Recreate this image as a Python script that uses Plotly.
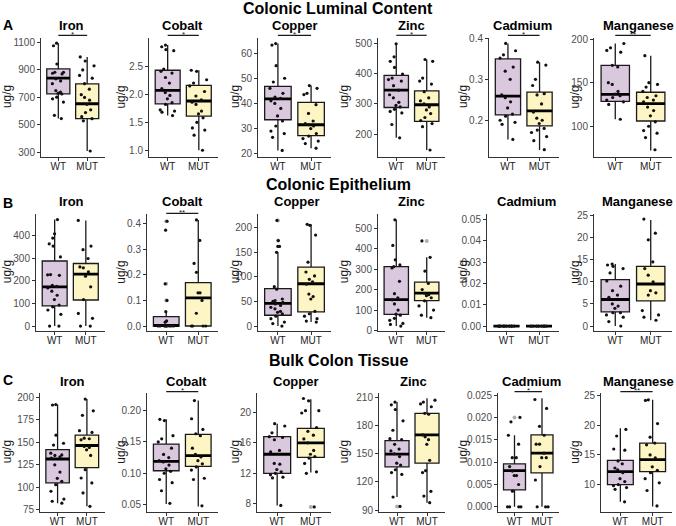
import plotly.graph_objects as go

# ======================= DATA =======================
TISSUES = ["Colonic Luminal Content", "Colonic Epithelium", "Bulk Colon Tissue"]
ROW_TAGS = ["A", "B", "C"]
METALS = ["Iron", "Cobalt", "Copper", "Zinc", "Cadmium", "Manganese"]
GROUPS = ["WT", "MUT"]
Y_TITLE = "ug/g"

TISSUE_KEYS = ["LUM", "EPI", "BULK"]
METAL_KEYS = ["IRON", "COBALT", "COPPER", "ZINC", "CADMIUM", "MANGANESE"]

# significance labels per panel
SIG_LUM = ["*", "*", "*", "*", "*", "**"]
SIG_EPI = ["", "**", "", "", "", ""]
SIG_BULK = ["", "*", "", "", "*", "**"]

# y tick labels per panel
TICKS_LUM = [["300", "500", "700", "900", "1100"], ["1.0", "1.5", "2.0", "2.5"],
             ["20", "30", "40", "50", "60"], ["200", "300", "400", "500"],
             ["0.2", "0.3", "0.4"], ["100", "150", "200"]]
TICKS_EPI = [["0", "100", "200", "300", "400"], ["0.0", "0.1", "0.2", "0.3", "0.4"],
             ["0", "50", "100", "150", "200"], ["0", "100", "200", "300", "400", "500"],
             ["0.00", "0.01", "0.02", "0.03", "0.04", "0.05"], ["0", "5", "10", "15", "20", "25"]]
TICKS_BULK = [["75", "100", "125", "150", "175", "200"], ["0.05", "0.10", "0.15", "0.20"],
              ["8", "12", "16", "20"], ["90", "120", "150", "180", "210"],
              ["0.000", "0.005", "0.010", "0.015", "0.020", "0.025"], ["10", "15", "20", "25"]]

# box stats: [q1, median, q3, lower whisker end, upper whisker end]
# ---- Colonic luminal content ----
LUM_IRON_WT_BOX = [726, 840, 907, 546, 1095]
LUM_IRON_WT = [1095, 1076, 943, 883, 883, 876, 871, 835, 820, 800, 750, 738, 731, 725, 702, 690, 666, 570, 546]
LUM_IRON_MUT_BOX = [546, 654, 799, 310, 995]
LUM_IRON_MUT = [995, 965, 930, 900, 860, 840, 800, 760, 720, 700, 680, 650, 610, 590, 560, 545, 530, 310]

LUM_COBALT_WT_BOX = [1.83, 2.07, 2.43, 1.62, 2.88]
LUM_COBALT_WT = [2.88, 2.85, 2.80, 2.78, 2.45, 2.41, 2.38, 2.30, 2.20, 2.10, 2.03, 1.98, 1.92, 1.85, 1.82, 1.72, 1.70, 1.68, 1.62]
LUM_COBALT_MUT_BOX = [1.61, 1.88, 2.16, 1.00, 2.43]
LUM_COBALT_MUT = [2.43, 2.41, 2.26, 2.20, 2.15, 2.05, 1.97, 1.90, 1.86, 1.82, 1.70, 1.65, 1.58, 1.50, 1.40, 1.36, 1.27, 1.00]

LUM_COPPER_WT_BOX = [33.5, 41.8, 46.8, 21.3, 63.8]
LUM_COPPER_WT = [63.8, 63.2, 55, 50, 48.5, 46, 44, 42.5, 42, 41, 40, 38, 35, 33, 31, 29, 28, 26.5, 21.3]
LUM_COPPER_MUT_BOX = [27.2, 31.5, 40.4, 22.2, 47.1]
LUM_COPPER_MUT = [47.1, 46, 44, 43.5, 39.5, 36, 33, 32, 31.5, 31, 30, 28, 27, 26, 25, 24, 22.2]

LUM_ZINC_WT_BOX = [288, 345, 394, 188, 498]
LUM_ZINC_WT = [498, 455, 440, 420, 398, 385, 380, 375, 360, 345, 330, 320, 305, 295, 290, 282, 275, 270, 232, 188]
LUM_ZINC_MUT_BOX = [242, 297, 343, 148, 446]
LUM_ZINC_MUT = [446, 440, 385, 375, 365, 340, 320, 310, 300, 290, 280, 268, 255, 245, 235, 225, 148]

LUM_CADMIUM_WT_BOX = [0.213, 0.259, 0.350, 0.153, 0.388]
LUM_CADMIUM_WT = [0.388, 0.370, 0.360, 0.352, 0.330, 0.320, 0.300, 0.262, 0.255, 0.245, 0.230, 0.215, 0.210, 0.200, 0.195, 0.190, 0.153]
LUM_CADMIUM_MUT_BOX = [0.186, 0.223, 0.269, 0.127, 0.342]
LUM_CADMIUM_MUT = [0.342, 0.335, 0.300, 0.285, 0.265, 0.262, 0.240, 0.220, 0.205, 0.200, 0.192, 0.180, 0.176, 0.170, 0.160, 0.150, 0.128]

LUM_MANGANESE_WT_BOX = [128.5, 136.5, 170, 108, 195]
LUM_MANGANESE_WT = [195, 190, 187, 185, 170, 168, 150, 148, 140, 137, 135, 133, 130, 128, 125, 108]
LUM_MANGANESE_MUT_BOX = [106, 126, 139, 72, 181]
LUM_MANGANESE_MUT = [181, 150, 148, 145, 140, 135, 133, 130, 128, 122, 118, 112, 105, 100, 95, 92, 87, 73]

# ---- Colonic epithelium ----
EPI_IRON_WT_BOX = [89, 173, 287, 0, 470]
EPI_IRON_WT = [470, 407, 388, 363, 353, 305, 227, 226, 224, 180, 175, 168, 154, 136, 117, 93, 85, 71, 52, 0, 0]
EPI_IRON_MUT_BOX = [115, 229, 276, 0, 466]
EPI_IRON_MUT = [466, 353, 337, 298, 261, 257, 239, 220, 173, 117, 56, 34, 0, 0]

EPI_COBALT_WT_BOX = [0, 0.002, 0.037, 0, 0.056]
EPI_COBALT_WT = [0.41, 0.375, 0.165, 0.10, 0.056, 0.02, 0.015, 0, 0, 0, 0, 0, 0, 0, 0, 0]
EPI_COBALT_WT_OUT = [0.41, 0.165, 0.10]
EPI_COBALT_MUT_BOX = [0, 0.11, 0.17, 0, 0.415]
EPI_COBALT_MUT = [0.415, 0.335, 0.245, 0.21, 0.13, 0.13, 0.10, 0.05, 0, 0, 0, 0]

EPI_COPPER_WT_BOX = [22, 46, 76, 0, 150]
EPI_COPPER_WT = [215, 174, 162, 162, 150, 80, 75, 55, 52, 50, 48, 45, 42, 38, 35, 30, 28, 25, 20, 15, 8, 5, 0]
EPI_COPPER_WT_OUT = [215, 174]
EPI_COPPER_MUT_BOX = [29, 86, 120, 8, 207]
EPI_COPPER_MUT = [207, 205, 185, 130, 110, 102, 95, 90, 85, 65, 60, 55, 30, 25, 20, 15, 10, 8]

EPI_ZINC_WT_BOX = [79, 151, 312, 22, 540]
EPI_ZINC_WT = [540, 415, 345, 320, 312, 305, 240, 180, 160, 150, 130, 100, 80, 75, 60, 50, 35, 30, 22]
EPI_ZINC_MUT_BOX = [146, 183, 236, 63, 357]
EPI_ZINC_MUT = [437, 357, 290, 230, 200, 182, 175, 170, 160, 145, 120, 100, 75, 63]
EPI_ZINC_MUT_OUT = [437]

EPI_CADMIUM_WT_BOX = [0, 0, 0, 0, 0]
EPI_CADMIUM_WT = [0, 0, 0, 0, 0, 0, 0, 0, 0, 0]
EPI_CADMIUM_MUT_BOX = [0, 0, 0, 0, 0]
EPI_CADMIUM_MUT = [0, 0, 0, 0, 0, 0, 0, 0]

EPI_MANGANESE_WT_BOX = [3.2, 6.0, 10.5, 0, 14]
EPI_MANGANESE_WT = [14, 13.8, 13.5, 13, 12, 10.2, 9, 8, 7, 6.5, 5, 4.5, 4, 3, 3, 2.5, 2, 1, 0]
EPI_MANGANESE_MUT_BOX = [5.7, 9.5, 13.5, 1.3, 24]
EPI_MANGANESE_MUT = [24.2, 21, 19.5, 14.5, 13, 11.5, 10, 8, 7.5, 7, 3.5, 2.5, 2, 1.3]

# ---- Bulk colon tissue ----
BULK_IRON_WT_BOX = [105, 131.5, 142, 82.4, 192]
BULK_IRON_WT = [192, 191.5, 158, 149, 147, 138, 136, 135.5, 134, 132.5, 125, 117, 110, 106.7, 103, 95.7, 87, 84.6, 82.4]
BULK_IRON_MUT_BOX = [122, 146.5, 158, 79, 198]
BULK_IRON_MUT = [198, 185, 180, 163, 161, 154.6, 154, 152.8, 145.4, 144.3, 141.7, 135.5, 119.6, 110.4, 104.9, 93.8, 79]

BULK_COBALT_WT_BOX = [0.104, 0.119, 0.1465, 0.051, 0.186]
BULK_COBALT_WT = [0.186, 0.184, 0.16, 0.155, 0.15, 0.14, 0.13, 0.125, 0.12, 0.118, 0.113, 0.107, 0.103, 0.10, 0.09, 0.085, 0.072, 0.052]
BULK_COBALT_MUT_BOX = [0.111, 0.128, 0.162, 0.047, 0.216]
BULK_COBALT_MUT = [0.216, 0.187, 0.17, 0.163, 0.16, 0.14, 0.13, 0.126, 0.12, 0.115, 0.11, 0.105, 0.092, 0.09, 0.048]

BULK_COPPER_WT_BOX = [12.0, 14.5, 16.8, 7.8, 18.5]
BULK_COPPER_WT = [18.5, 18.2, 17.3, 16.8, 16.7, 16.4, 15.0, 14.8, 13.3, 13.2, 12.5, 12.2, 12.0, 11.8, 11.5, 11.4, 7.8]
BULK_COPPER_MUT_BOX = [14.1, 16.0, 17.9, 12.1, 21.7]
BULK_COPPER_MUT = [21.8, 21.5, 20.2, 20.2, 19.9, 18.0, 17.5, 17.0, 16.5, 16.0, 15.0, 14.5, 14.2, 14.0, 13.3, 12.2, 12.0, 7.6]
BULK_COPPER_MUT_OUT = [7.6]

BULK_ZINC_WT_BOX = [136, 149.5, 164, 104, 205]
BULK_ZINC_WT = [205, 202, 197, 185, 175, 166, 165, 160, 155, 153, 150, 147, 140, 138, 133, 130, 128, 104, 94]
BULK_ZINC_WT_OUT = [94]
BULK_ZINC_MUT_BOX = [140, 170, 193, 98, 209]
BULK_ZINC_MUT = [207, 205, 203, 200, 193, 192, 170, 168, 165, 160, 143, 132, 130, 110, 105, 98]

BULK_CADMIUM_WT_BOX = [0.0038, 0.0081, 0.0096, 0, 0.016]
BULK_CADMIUM_WT = [0.020, 0.019, 0.016, 0.014, 0.011, 0.011, 0.009, 0.008, 0.007, 0.007, 0.005, 0.0035, 0, 0, 0, 0]
BULK_CADMIUM_WT_OUT = [0.020]
BULK_CADMIUM_MUT_BOX = [0.0076, 0.012, 0.0161, 0, 0.0243]
BULK_CADMIUM_MUT = [0.024, 0.022, 0.018, 0.016, 0.014, 0.014, 0.012, 0.011, 0.011, 0.009, 0.006, 0, 0, 0]

BULK_MANGANESE_WT_BOX = [10.0, 12.2, 14.1, 7.1, 19.5]
BULK_MANGANESE_WT = [19.3, 18.2, 16, 15.8, 14, 13.5, 12.8, 12.5, 12, 11, 10.5, 10, 9.8, 9.5, 9.2, 7.1]
BULK_MANGANESE_MUT_BOX = [12.2, 14.2, 17.0, 6.3, 24.3]
BULK_MANGANESE_MUT = [24.3, 24.2, 20.3, 18, 17, 16.7, 15, 14.5, 13, 12.4, 12, 11, 10.3, 9, 6.4]

# ======================= LAYOUT (positions / styles) =======================
W, H = 676, 526
FONT = "Liberation Sans, Arial, sans-serif"
FILLS = {"WT": "#d9c8de", "MUT": "#fdf5c3"}
AXIS_COL = "#333333"
TICK_COL = "#4d4d4d"

YRANGE = [
    [[268.6, 1136], [0.885, 3.015], [18.8, 66.2], [126, 518.5], [0.1108, 0.4024], [65, 201.9]],
    [[-21.7, 496.6], [-0.0195, 0.4403], [-10.1, 229], [-2, 570.7], [-0.0023, 0.0528], [-1.13, 25.45]],
    [[73.2, 204.8], [0.0389, 0.2281], [7.0, 22.52], [88.6, 214.6], [-0.00104, 0.02545], [5.46, 25.45]],
]
ROW_TOP = [37.5, 213.5, 393]
ROW_BOT = [156.7, 331, 511.5]
AXIS_LEFT = [[41, 149, 258, 378, 489, 594],
             [36, 147, 258, 378, 487, 594],
             [40, 147, 257, 379, 498, 601]]
PANEL_RIGHT = [104.5, 217.5, 331, 445, 558.5, 672]
YTITLE_X = [7, 121.5, 235, 344, 463, 575.5]
PANEL_TITLE_X = [[71.7, 182.7, 295, 411, 522.7, 638],
                 [71.7, 182.7, 296.7, 411, 526, 637],
                 [72.7, 186.7, 296, 413.3, 531.5, 638]]
TITLE_Y = [8.5, 184, 360]
TAG_Y = [25, 203, 380]
PANEL_TITLE_Y = [25, 201.7, 381.7]
SIG_BAR_Y = [35.3, 213.3, 391.6]

TICKS = [TICKS_LUM, TICKS_EPI, TICKS_BULK]
SIGS = [SIG_LUM, SIG_EPI, SIG_BULK]


def get(name, default=None):
    return globals().get(name, default)


def fx(px):
    return px / W


def fy(px):
    return 1 - px / H


fig = go.Figure()
annotations = []
shapes = []
axes = {}

k = 0
for r, tk in enumerate(TISSUE_KEYS):
    annotations.append(dict(text="<b>%s</b>" % TISSUES[r], x=0.5, y=fy(TITLE_Y[r]), xref="paper", yref="paper",
                            showarrow=False, xanchor="center", yanchor="middle",
                            font=dict(family=FONT, size=16, color="black")))
    annotations.append(dict(text="<b>%s</b>" % ROW_TAGS[r], x=fx(1), y=fy(TAG_Y[r]), xref="paper", yref="paper",
                            showarrow=False, xanchor="left", yanchor="middle",
                            font=dict(family=FONT, size=14, color="black")))
    for c, mk in enumerate(METAL_KEYS):
        k += 1
        xa = "x" if k == 1 else "x%d" % k
        ya = "y" if k == 1 else "y%d" % k
        left, right = AXIS_LEFT[r][c], PANEL_RIGHT[c]
        top, bot = ROW_TOP[r], ROW_BOT[r]
        ticks = TICKS[r][c]
        axes["xaxis" if k == 1 else "xaxis%d" % k] = dict(
            domain=[fx(left), fx(right)], anchor=ya, type="category",
            categoryorder="array", categoryarray=GROUPS, range=[-0.6, 1.6],
            showline=True, linecolor=AXIS_COL, linewidth=1, ticks="outside", ticklen=3,
            tickcolor=AXIS_COL, tickwidth=1, ticklabelstandoff=-3,
            tickfont=dict(family=FONT, size=10, color="#222222"),
            showgrid=False, zeroline=False, automargin=False, fixedrange=True)
        axes["yaxis" if k == 1 else "yaxis%d" % k] = dict(
            domain=[fy(bot), fy(top)], anchor=xa, range=YRANGE[r][c],
            tickmode="array", tickvals=[float(t) for t in ticks], ticktext=ticks,
            showline=True, linecolor=AXIS_COL, linewidth=1, ticks="outside", ticklen=3,
            tickcolor=AXIS_COL, tickwidth=1, tickfont=dict(family=FONT, size=10, color=TICK_COL),
            showgrid=False, zeroline=False, automargin=False, fixedrange=True)

        for g in GROUPS:
            q1, med, q3, lo, hi = get("%s_%s_%s_BOX" % (tk, mk, g))
            pts = get("%s_%s_%s" % (tk, mk, g))
            outs = get("%s_%s_%s_OUT" % (tk, mk, g), [])
            fig.add_trace(go.Box(x=[g], q1=[q1], median=[med], q3=[q3], lowerfence=[lo], upperfence=[hi],
                                 width=0.8, fillcolor=FILLS[g], line=dict(color="#1a1a1a", width=1.3),
                                 whiskerwidth=0, boxpoints=False, xaxis=xa, yaxis=ya,
                                 showlegend=False, hoverinfo="skip"))
            # thick median bar
            fig.add_trace(go.Box(x=[g], q1=[med], median=[med], q3=[med], lowerfence=[med], upperfence=[med],
                                 width=0.8, fillcolor="rgba(0,0,0,0)", line=dict(color="black", width=2.8),
                                 boxpoints=False, xaxis=xa, yaxis=ya, showlegend=False, hoverinfo="skip"))
            if outs:
                fig.add_trace(go.Box(x=[g] * len(outs), y=outs, boxpoints="all", jitter=0, pointpos=0,
                                     width=0.8, fillcolor="rgba(0,0,0,0)",
                                     line=dict(color="rgba(0,0,0,0)", width=0),
                                     marker=dict(color="#b0b0b0", size=4), xaxis=xa, yaxis=ya,
                                     showlegend=False, hoverinfo="skip"))
            fig.add_trace(go.Box(x=[g] * len(pts), y=pts, boxpoints="all", jitter=0.75, pointpos=0,
                                 width=0.8, fillcolor="rgba(0,0,0,0)",
                                 line=dict(color="rgba(0,0,0,0)", width=0),
                                 marker=dict(color="#111111", size=3.2), xaxis=xa, yaxis=ya,
                                 showlegend=False, hoverinfo="skip"))

        # panel title
        annotations.append(dict(text="<b>%s</b>" % METALS[c], x=fx(PANEL_TITLE_X[r][c]), y=fy(PANEL_TITLE_Y[r]),
                                xref="paper", yref="paper", showarrow=False, xanchor="center", yanchor="middle",
                                font=dict(family=FONT, size=13, color="black")))
        # y title
        annotations.append(dict(text=Y_TITLE, x=fx(YTITLE_X[c]), y=fy((top + bot) / 2), xref="paper", yref="paper",
                                showarrow=False, textangle=-90, xanchor="center", yanchor="middle",
                                font=dict(family=FONT, size=12, color="#1a1a1a")))
        # significance
        sig = SIGS[r][c]
        if sig:
            shapes.append(dict(type="line", xref=xa, yref="paper", x0=0, x1=1,
                               y0=fy(SIG_BAR_Y[r]), y1=fy(SIG_BAR_Y[r]),
                               line=dict(color="#1a1a1a", width=1.2)))
            annotations.append(dict(text=sig, x=0.5, xref=xa, y=fy(SIG_BAR_Y[r] - 1.2), yref="paper",
                                    showarrow=False, xanchor="center", yanchor="middle",
                                    font=dict(family=FONT, size=8, color="#1a1a1a")))

fig.update_layout(
    width=W, height=H, margin=dict(l=0, r=0, t=0, b=0),
    paper_bgcolor="white", plot_bgcolor="white", boxmode="overlay",
    showlegend=False, annotations=annotations, shapes=shapes, **axes)

fig.write_html("out.html", config={"displayModeBar": False},
               post_script="document.body.style.margin='0';document.body.style.padding='0';")
